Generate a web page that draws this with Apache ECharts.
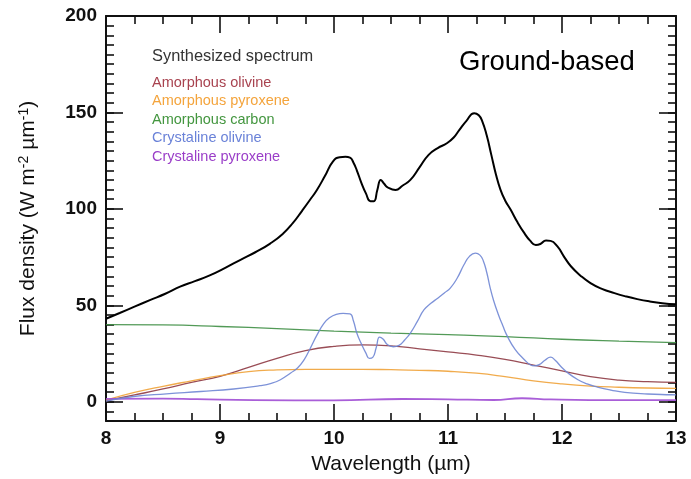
<!DOCTYPE html>
<html><head><meta charset="utf-8">
<script src="https://cdn.jsdelivr.net/npm/echarts@6/dist/echarts.min.js"></script>
<style>html,body{margin:0;padding:0;background:#fff}#c{width:691px;height:479px}</style>
</head><body><div id="c"></div>
<script>
// ---- data ----
const synthWl = [8.0,8.12,8.25,8.39,8.52,8.65,8.78,8.91,9.05,9.18,9.31,9.44,9.55,9.64,9.72,9.79,9.85,9.92,9.99,10.05,10.1,10.14,10.17,10.2,10.24,10.28,10.32,10.35,10.38,10.41,10.44,10.47,10.54,10.6,10.67,10.75,10.83,10.91,10.99,11.05,11.1,11.16,11.23,11.27,11.3,11.34,11.38,11.42,11.46,11.5,11.55,11.61,11.67,11.72,11.77,11.81,11.86,11.9,11.96,12.02,12.08,12.16,12.25,12.35,12.46,12.56,12.66,12.77,12.88,13.0];
const synthFlux = [43,46,49.3,52.8,56,59.7,62.5,65.5,69.5,73.6,77.5,82,87,92.7,99,104.7,109.8,117,124.5,126.8,127,126.6,124,120,113.5,108,104,104,109.8,115,113,111.2,109.8,112,115,121.5,128,131.5,134,137,141,145.5,149.6,148.5,145.5,138,128,118,110,104.5,99.5,93,87.4,83.5,81.3,81.8,83.6,83.4,80.5,75,70.1,65.5,61.5,58.5,56.3,54.6,53.2,52,51.1,50.5];

const crysOlivWl = [8.0,8.24,8.53,8.83,9.12,9.35,9.45,9.53,9.62,9.68,9.74,9.79,9.85,9.91,9.96,10.02,10.08,10.14,10.17,10.2,10.24,10.28,10.31,10.34,10.37,10.4,10.43,10.47,10.52,10.57,10.62,10.67,10.73,10.79,10.85,10.91,10.97,11.02,11.08,11.14,11.19,11.24,11.28,11.31,11.34,11.37,11.4,11.44,11.48,11.52,11.59,11.67,11.72,11.76,11.8,11.85,11.9,11.94,11.99,12.05,12.14,12.22,12.31,12.43,12.55,12.75,12.96,13.0];
const crysOlivFlux = [0.3,2.7,4.1,5.3,6.6,8.3,9.5,11.4,14.9,17.5,22,27.5,34.5,40.5,43.5,45.3,45.8,45.6,42,35.6,30,25.2,22.5,23,28,33.5,32.5,29.5,28.5,29.2,32,35.6,41.5,47.7,51,53.7,56.5,58.9,64,71,75.5,77,76,73,67,59,52.5,45.5,39.5,34,27,21.8,19.2,18.6,19.2,21.5,23.1,21.5,18.3,15,11.4,9.2,7.6,6,4.8,4,3.6,3.5];

const amorphWl = [8.0,8.25,8.5,8.75,9.0,9.25,9.5,9.75,10.0,10.25,10.5,10.75,11.0,11.25,11.5,11.75,12.0,12.25,12.5,12.75,13.0];
const amOlivFlux = [0.5,3.5,6.6,10,13.2,17.8,22.5,26.5,28.7,29.5,29,27.4,25.8,24.2,22,19,16,13,11.2,10.4,10];
const amPyroxFlux = [0.8,4.8,8,10.8,13.5,15.6,16.5,16.8,16.8,16.8,16.6,16.3,15.8,14.8,13,10.8,9.2,8.1,7.5,7.1,6.9];

const carbonWl = [8.0,8.5,9.0,9.5,10.0,10.5,11.0,11.5,12.0,12.5,13.0];
const carbonFlux = [40,39.8,39,37.9,36.6,35.6,34.8,33.8,32.4,31.4,30.6];

const crysPyroxWl = [8.0,8.5,8.8,9.3,10.0,10.6,11.0,11.4,11.65,11.9,12.5,13.0];
const crysPyroxFlux = [1.5,1.6,1.3,0.8,0.7,1.4,1.2,0.9,1.8,1.2,0.8,0.8];

const yMajorTicks = [0,50,100,150,200];

const names = ['Synthesized spectrum','Amorphous olivine','Amorphous pyroxene','Amorphous carbon','Crystaline olivine','Crystaline pyroxene'];
const lineColors = ['#000000','#8e3a44','#f0a238','#3f8f45','#6f86d4','#a04cd4'];
const textColors = ['#333333','#a8424f','#f4a43c','#43963f','#6a82d8','#9a3ec8'];

// ---- chart ----
const FONT = 'Liberation Sans, Helvetica, Arial, sans-serif';
const pairs = (xs, ys) => xs.map((x, i) => [x, ys[i]]);
const seriesData = [
  pairs(synthWl, synthFlux),
  pairs(amorphWl, amOlivFlux),
  pairs(amorphWl, amPyroxFlux),
  pairs(carbonWl, carbonFlux),
  pairs(crysOlivWl, crysOlivFlux),
  pairs(crysPyroxWl, crysPyroxFlux)
];
const widths = [2, 1.3, 1.3, 1.3, 1.3, 1.8];
const drawOrder = [3, 1, 2, 5, 4, 0];

const axisLineStyle = {color:'#111', width:2};
const tickStyle = {color:'#111', width:1.6};

function xAx(pos, showLabel) {
  return {
    type:'value', min:8, max:13, interval:1, position:pos,
    axisLine:{show:true, onZero:false, lineStyle:axisLineStyle},
    axisTick:{show:true, inside:true, length:17, lineStyle:tickStyle},
    minorTick:{show:true, splitNumber:4, length:8, lineStyle:tickStyle},
    splitLine:{show:false}, minorSplitLine:{show:false},
    axisLabel:{show:showLabel, margin:8, fontSize:19, fontWeight:'bold', color:'#111', fontFamily:FONT},
    name: showLabel ? 'Wavelength (µm)' : '',
    nameLocation:'middle', nameGap:33,
    nameTextStyle:{fontSize:21, color:'#111', fontFamily:FONT}
  };
}
function yShort(pos, showLabel) {
  return {
    type:'value', min:-10, max:200, interval:5, position:pos,
    axisLine:{show:true, onZero:false, lineStyle:axisLineStyle},
    axisTick:{show:true, inside:true, length:8, lineStyle:tickStyle},
    splitLine:{show:false},
    axisLabel:{show:showLabel, margin:9, fontSize:19, fontWeight:'bold', color:'#111', fontFamily:FONT,
      formatter: v => (yMajorTicks.indexOf(v) >= 0 ? String(v) : '')},
    name: showLabel ? 'Flux density (W m{sup|-2} µm{sup|-1})' : '',
    nameLocation:'middle', nameRotate:90, nameGap:66,
    nameTextStyle:{fontSize:21, color:'#111', fontFamily:FONT,
      rich:{sup:{fontSize:14, verticalAlign:'top', padding:[0,0,9,0], color:'#111', fontFamily:FONT}}}
  };
}
function yLong(pos) {
  return {
    type:'value', min:-10, max:200, position:pos,
    axisLine:{show:false, onZero:false},
    axisTick:{show:true, inside:true, length:17, lineStyle:tickStyle, customValues:yMajorTicks},
    splitLine:{show:false},
    axisLabel:{show:false}
  };
}

const chart = echarts.init(document.getElementById('c'), null, {renderer:'canvas'});
chart.setOption({
  animation:false,
  backgroundColor:'#ffffff',
  textStyle:{fontFamily:FONT},
  grid:{left:106, right:15, top:16, bottom:58, containLabel:false, outerBoundsMode:'none'},
  title:{text:'Ground-based', left:459, top:48, padding:0,
    textStyle:{fontSize:27.5, fontWeight:'normal', color:'#000', fontFamily:FONT}},
  legend:[
    {data:[{name:names[0], textStyle:{color:textColors[0]}}],
     left:147, top:48, padding:0, icon:'none', itemWidth:0, itemHeight:14, selectedMode:false,
     textStyle:{fontSize:16.4, fontFamily:FONT}},
    {data:names.slice(1).map((n, i) => ({name:n, textStyle:{color:textColors[i+1]}})),
     orient:'vertical', left:147, top:75, padding:0, itemGap:3.5, itemHeight:14, icon:'none', itemWidth:0,
     selectedMode:false, textStyle:{fontSize:14.5, lineHeight:14, fontFamily:FONT}}
  ],
  xAxis:[xAx('bottom', true), xAx('top', false)],
  yAxis:[yShort('left', true), yLong('left'), yShort('right', false), yLong('right')],
  series: drawOrder.map(i => ({
    name:names[i], type:'line', xAxisIndex:0, yAxisIndex:0,
    data:seriesData[i], smooth:0.5, showSymbol:false, symbol:'none',
    clip:true, z: i === 0 ? 5 : 3,
    lineStyle:{color:lineColors[i], width:widths[i], opacity: i === 0 ? 1 : 0.9},
    itemStyle:{color:lineColors[i]}
  }))
});
</script>
</body></html>
